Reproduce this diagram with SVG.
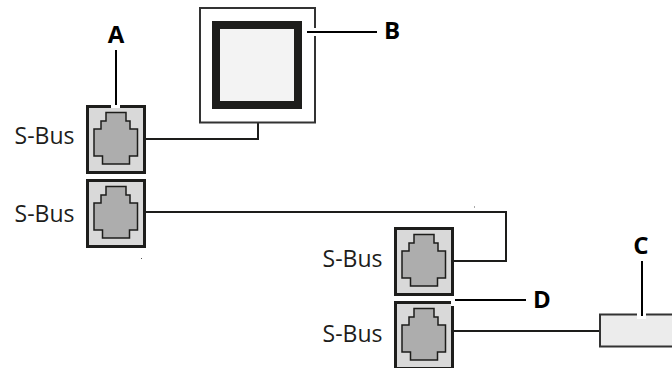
<svg xmlns="http://www.w3.org/2000/svg" width="672" height="368" viewBox="0 0 672 368">
<style>
.port{fill:#d9d9d9;stroke:#1d1d1b;stroke-width:3}
.jack{fill:#adadad;stroke:#1d1d1b;stroke-width:1.500}
.wire{fill:none;stroke:#1d1d1b;stroke-width:2}
.lead{fill:none;stroke:#000;stroke-width:2}
.gap{fill:#fff}
.sb{font:23px "Open Sans",sans-serif;fill:#1d1d1b;text-anchor:middle}
.lb{font:bold 24px "Open Sans",sans-serif;fill:#000;text-anchor:middle}
</style>
<defs>
<g id="p">
<rect class="port" x="1.500" y="1.500" width="57" height="66"/>
<path class="jack" d="M20 7.500H40V16H44V24H51.500V51H43.500V59H16.500V51H8V24H15V16H20Z"/>
</g>
</defs>
<g id="connectors">
<path class="wire" d="M146 139H258V122"/>
<path class="wire" d="M146 212H506V261H454"/>
<path class="wire" d="M454 331H600"/>
</g>
<g id="node-a"><use href="#p" x="86" y="105"/><text class="sb" x="44.500" y="144">S-Bus</text></g>
<g id="node-a2"><use href="#p" x="86" y="179"/><text class="sb" x="44.500" y="222">S-Bus</text></g>
<g id="node-d1"><use href="#p" x="394" y="227"/><text class="sb" x="352.500" y="267">S-Bus</text></g>
<g id="node-d2"><use href="#p" x="394" y="301"/><text class="sb" x="352.500" y="342">S-Bus</text></g>
<g id="node-b">
<rect x="200" y="8" width="115" height="114.500" fill="#fff" stroke="#333" stroke-width="2"/>
<rect x="216" y="25" width="82" height="80" fill="#f3f3f3" stroke="#1d1d1b" stroke-width="8"/>
</g>
<g id="node-c"><rect x="600" y="314.500" width="74" height="32" fill="#ececec" stroke="#333" stroke-width="2"/></g>
<g id="callouts">
<rect class="gap" x="111" y="104" width="9" height="4"/>
<path class="lead" d="M116 50V105"/>
<text class="lb" x="116" y="43">A</text>
<rect class="gap" x="304" y="28" width="13" height="8"/>
<path class="lead" d="M307 32H377"/>
<text class="lb" x="392" y="39">B</text>
<rect class="gap" x="637" y="313" width="9" height="6"/>
<path class="lead" d="M642 261V316"/>
<text class="lb" x="641" y="254">C</text>
<rect class="gap" x="451" y="298" width="5" height="8"/>
<path class="lead" d="M455 300H526"/>
<text class="lb" x="542" y="308">D</text>
</g>
<g id="specks" fill="#555"><rect x="474" y="206.500" width="1" height="1"/><rect x="141" y="258" width="1" height="1"/></g>
</svg>
